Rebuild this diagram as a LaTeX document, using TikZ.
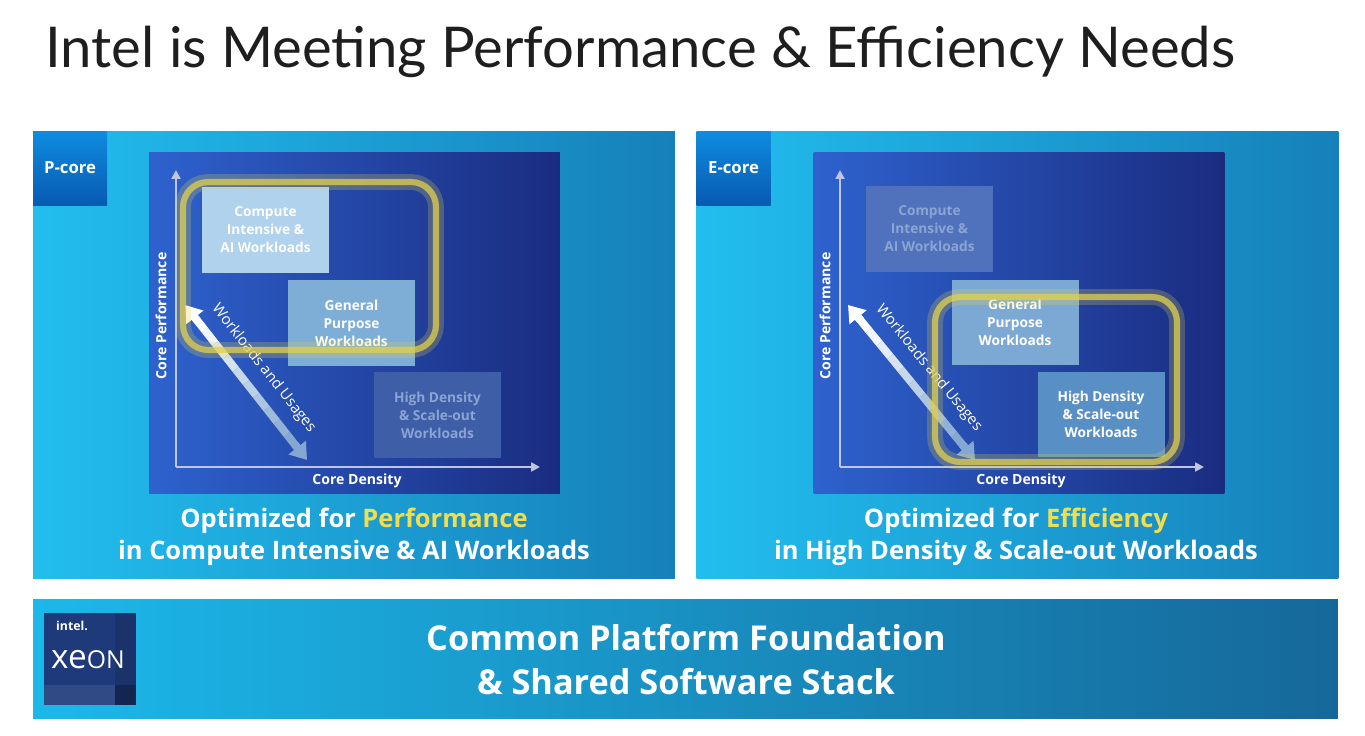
\documentclass[tikz,border=0pt]{standalone}
\usepackage{fontspec}
\setmainfont{Lato}
\newfontfamily\labelfont{Open Sans}
\usetikzlibrary{arrows.meta,calc,positioning}

\definecolor{panelL}{RGB}{34,190,238}
\definecolor{panelR}{RGB}{22,128,186}
\definecolor{tagTop}{RGB}{14,140,224}
\definecolor{tagBot}{RGB}{8,90,178}
\definecolor{chartL}{RGB}{46,98,206}
\definecolor{chartR}{RGB}{26,44,128}
\definecolor{axisgrey}{RGB}{190,196,226}
\definecolor{ringyellow}{RGB}{226,208,76}
\definecolor{capyellow}{RGB}{242,222,76}
\definecolor{wlblue}{RGB}{84,134,192}
\definecolor{fadetext}{RGB}{140,164,210}
\definecolor{barL}{RGB}{28,184,234}
\definecolor{barR}{RGB}{22,104,154}
\definecolor{logoblue}{RGB}{30,58,122}
\definecolor{titlegrey}{RGB}{30,30,30}

\tikzset{
  panel/.style={rectangle, inner sep=0pt, left color=panelL, right color=panelR,
    minimum width=12.84cm, minimum height=8.96cm},
  coretag/.style={rectangle, inner sep=0pt, top color=tagTop, bottom color=tagBot,
    minimum size=1.48cm, text=white, font=\labelfont\bfseries\fontsize{9.5}{11}\selectfont},
  chart/.style={rectangle, inner sep=0pt, left color=chartL, right color=chartR,
    minimum width=8.22cm, minimum height=6.84cm},
  wbox/.style={rectangle, inner sep=0pt, minimum width=2.54cm, minimum height=1.72cm,
    align=center, text=white, font=\labelfont\bfseries\fontsize{7.8}{10.2}\selectfont},
  fadebox/.style={wbox, text=fadetext},
  axis/.style={draw=axisgrey, line width=1.4pt, -{Triangle[length=5pt,width=5pt]}},
  axislabel/.style={text=white, font=\labelfont\bfseries\fontsize{8}{10}\selectfont},
  ring/.style={rectangle, draw=ringyellow, line width=3.5pt, draw opacity=0.75,
    rounded corners=0.5cm,
    preaction={draw=ringyellow, line width=9pt, draw opacity=0.25}},
  caption/.style={align=center, text=white, font=\labelfont\bfseries\fontsize{14.5}{18}\selectfont}
}

\begin{document}
\begin{tikzpicture}[x=0.02cm, y=-0.02cm,
    wltext/.style={text=white, font=\labelfont\fontsize{8.5}{10}\selectfont}]
  \fill[white] (0,0) rectangle (1365,736);
  \useasboundingbox (0,0) rectangle (1365,736);

  % title
  \node[anchor=base west, inner sep=0pt, text=titlegrey,
    font=\fontsize{32}{38}\selectfont] (title) at (45,68)
    {Intel is Meeting Performance \& Efficiency Needs};

  % P-core panel
  \node[panel] (pPanel) at (354,355) {};
  \node[coretag, anchor=north west] (pTag) at (pPanel.north west) {P-core};
  \node[chart] (pChart) at (354.5,323) {};
  \coordinate (pO) at (176,467);
  \coordinate (pY) at (176,170);
  \coordinate (pX) at (540,467);
  \draw[axis] (pO) -- (pY);
  \draw[axis] (pO) -- (pX);
  \node[axislabel, rotate=90] (pPerf) at (161,316) {Core Performance};
  \node[axislabel] (pDens) at (357,481) {Core Density};
  \node[wbox, fill={rgb,255:red,176;green,210;blue,236}] (pCompute) at (265.5,230)
    {Compute\\Intensive \&\\AI Workloads};
  \node[wbox, fill={rgb,255:red,126;green,174;blue,214}] (pGeneral) at (351.5,323)
    {General\\Purpose\\Workloads};
  \node[fadebox, fill={rgb,255:red,62;green,94;blue,168}] (pHigh) at (437.5,415)
    {High Density\\\& Scale-out\\Workloads};
  \coordinate (pWa) at (185,305);
  \coordinate (pWb) at (307,460);
  \foreach \i in {0,...,9}{
    \pgfmathtruncatemacro\mix{100-8*\i}
    \draw[line width=4.5pt, white!\mix!wlblue]
      ($(pWa)!{0.08+0.084*\i}!(pWb)$) -- ($(pWa)!{0.08+0.084*(\i+1)}!(pWb)$);
  }
  \draw[-{Triangle[length=9pt,width=12pt]}, line width=4.5pt, white]
    ($(pWa)!0.1!(pWb)$) -- (pWa);
  \draw[-{Triangle[length=9pt,width=12pt]}, line width=4.5pt, white!28!wlblue]
    ($(pWa)!0.9!(pWb)$) -- (pWb);
  \path (pWa) -- (pWb) node[midway, sloped, above=5pt, wltext] {Workloads and Usages};
  \node[ring, minimum width=5.06cm, minimum height=3.36cm] (pRing) at (309.5,266) {};
  \node[caption] (pCap) at (354,537)
    {Optimized for \textcolor{capyellow}{Performance}\\in Compute Intensive \& AI Workloads};

  % E-core panel
  \node[panel] (ePanel) at (1017.5,355) {};
  \node[coretag, anchor=north west] (eTag) at (ePanel.north west) {E-core};
  \node[chart] (eChart) at (1019,323) {};
  \coordinate (eO) at (840,467);
  \coordinate (eY) at (840,170);
  \coordinate (eX) at (1204,467);
  \draw[axis] (eO) -- (eY);
  \draw[axis] (eO) -- (eX);
  \node[axislabel, rotate=90] (ePerf) at (825,316) {Core Performance};
  \node[axislabel] (eDens) at (1021,481) {Core Density};
  \node[fadebox, fill={rgb,255:red,80;green,114;blue,188}] (eCompute) at (929.5,229)
    {Compute\\Intensive \&\\AI Workloads};
  \node[wbox, fill={rgb,255:red,124;green,168;blue,212}] (eGeneral) at (1015,322.5)
    {General\\Purpose\\Workloads};
  \node[wbox, fill={rgb,255:red,88;green,144;blue,198}] (eHigh) at (1101,414.5)
    {High Density\\\& Scale-out\\Workloads};
  \coordinate (eWa) at (848,305);
  \coordinate (eWb) at (975,460);
  \foreach \i in {0,...,9}{
    \pgfmathtruncatemacro\mix{100-8*\i}
    \draw[line width=4.5pt, white!\mix!wlblue]
      ($(eWa)!{0.08+0.084*\i}!(eWb)$) -- ($(eWa)!{0.08+0.084*(\i+1)}!(eWb)$);
  }
  \draw[-{Triangle[length=9pt,width=12pt]}, line width=4.5pt, white]
    ($(eWa)!0.1!(eWb)$) -- (eWa);
  \draw[-{Triangle[length=9pt,width=12pt]}, line width=4.5pt, white!28!wlblue]
    ($(eWa)!0.9!(eWb)$) -- (eWb);
  \path (eWa) -- (eWb) node[midway, sloped, above=5pt, wltext] {Workloads and Usages};
  \node[ring, minimum width=4.84cm, minimum height=3.3cm] (eRing) at (1056,379.5) {};
  \node[caption] (eCap) at (1016,537)
    {Optimized for \textcolor{capyellow}{Efficiency}\\in High Density \& Scale-out Workloads};

  % platform bar
  \node[rectangle, inner sep=0pt, left color=barL, right color=barR,
    minimum width=26.1cm, minimum height=2.4cm] (bar) at (685.5,659) {};
  \node[rectangle, inner sep=0pt, fill=logoblue, minimum size=1.84cm] (logo) at (90,659) {};
  \fill[logoblue!88!black] (115,613) rectangle (136,685);
  \fill[logoblue!92!white] (44,685) rectangle (115,705);
  \fill[logoblue!65!black] (115,685) rectangle (136,705);
  \node[text=white, font=\labelfont\bfseries\fontsize{7}{8}\selectfont, anchor=west] (intel) at (50,626) {intel.};
  \node[text=white, font=\labelfont\fontsize{19}{22}\selectfont, anchor=west] (xeon) at (45,660)
    {xe\scalebox{0.74}{ON}};
  \node[align=center, text=white, font=\labelfont\bfseries\fontsize{19.5}{25}\selectfont] (stack) at (686,660)
    {Common Platform Foundation\\\& Shared Software Stack};
\end{tikzpicture}
\end{document}
